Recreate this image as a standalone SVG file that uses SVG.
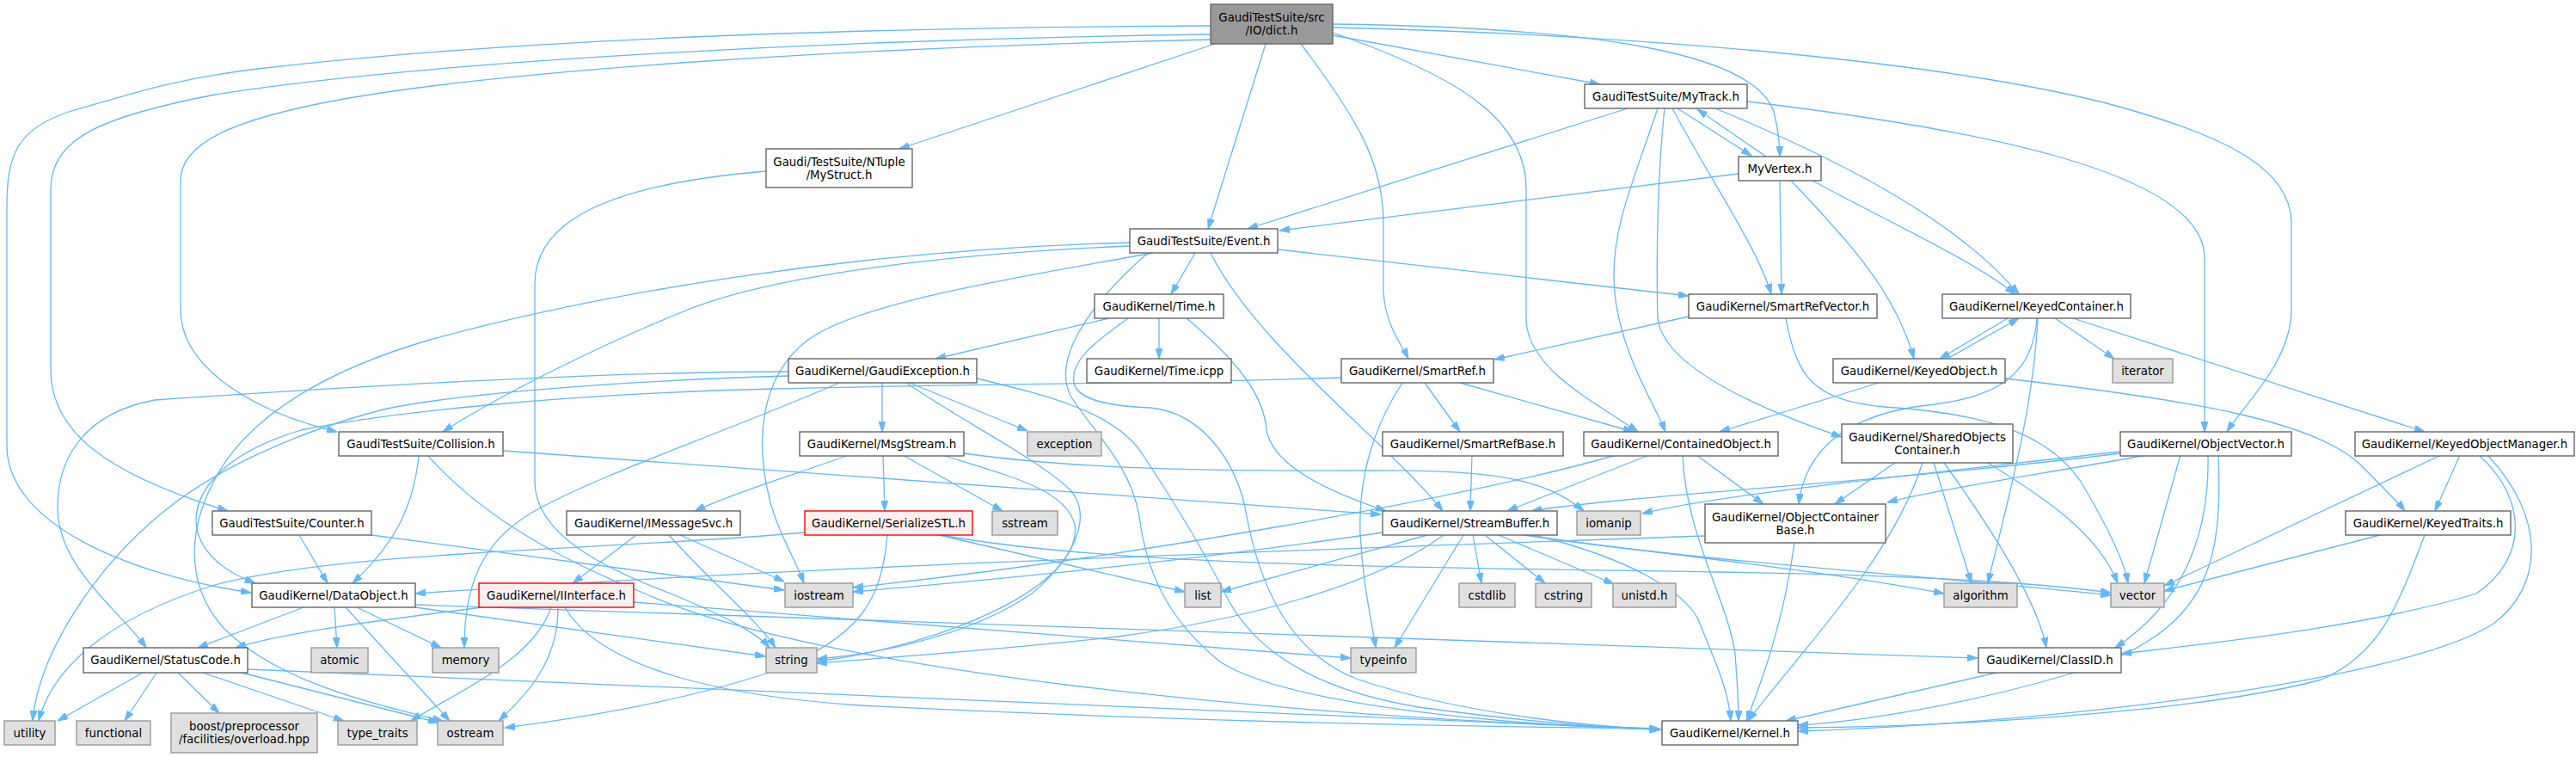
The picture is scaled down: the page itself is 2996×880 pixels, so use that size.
<svg xmlns="http://www.w3.org/2000/svg" width="2996" height="880" viewBox="0 0 2996 880">
<style>
text{font-family:"DejaVu Sans","Liberation Sans",sans-serif;font-size:13.33px;fill:#000;text-anchor:middle}
.n rect{fill:#fff;stroke:#666;stroke-width:1.4}
.g rect{fill:#e0e0e0;stroke:#999;stroke-width:1.4}
.r rect{fill:#fff0f0;stroke:#f00;stroke-width:1.4}
.root rect{fill:#999;stroke:#666;stroke-width:1.4}
#edges path{fill:none;stroke:#63b8ff;stroke-width:1.3;marker-end:url(#a)}
</style>
<defs>
<marker id="a" viewBox="0 0 12 8" refX="12" refY="4" markerWidth="12" markerHeight="8" orient="auto" markerUnits="userSpaceOnUse"><path d="M0,0 L12,4 L0,8 z" fill="#63b8ff" stroke="#63b8ff" stroke-width="1"/></marker>
</defs>
<rect width="2996" height="880" fill="#fff"/>
<g id="edges">
<path d="M1408,30 C1000,32 600,45 300,80 C200,92 150,110 80,130 C20,150 8,180 8,240 L8,520 C10,610 150,668 292,689"/>
<path d="M1408,40 C1000,45 500,70 250,110 C120,135 59,160 59,220 L59,430 C59,500 120,550 265,594"/>
<path d="M1408,46 C1000,55 600,80 400,115 C260,140 210,170 210,210 L210,360 C210,430 300,480 392,502"/>
<path d="M1413,51 L1046,173"/>
<path d="M1472,51 L1405,266"/>
<path d="M1513,51 C1580,140 1609,190 1609,260 L1609,340 C1612,380 1630,400 1638,417"/>
<path d="M1550,38 C1700,90 1775,140 1775,220 L1775,370 C1775,430 1860,470 1905,502"/>
<path d="M1550,41 L1861,98"/>
<path d="M1550,28 C1850,32 2040,60 2063,130 C2068,150 2070,165 2070,182"/>
<path d="M1550,32 C1900,40 2250,70 2450,120 C2600,160 2665,200 2665,260 L2665,360 C2665,420 2610,470 2590,502"/>
<path d="M1893,126 L1451,266"/>
<path d="M1928,126 C1900,210 1877,260 1877,320 C1877,400 1925,470 1937,502"/>
<path d="M1936,126 C1928,200 1926,300 1928,370 C1935,430 2060,480 2142,508"/>
<path d="M1945,126 C1990,210 2045,290 2060,342"/>
<path d="M1951,126 L2037,181"/>
<path d="M2054,182 L1974,127"/>
<path d="M1995,126 C2150,190 2280,260 2348,342"/>
<path d="M2032,118 C2300,150 2564,200 2564,300 L2564,502"/>
<path d="M2022,202 L1488,268"/>
<path d="M2070,210 L2072,342"/>
<path d="M2083,210 C2150,280 2205,340 2226,417"/>
<path d="M2108,210 C2200,260 2290,300 2344,342"/>
<path d="M1390,294 L1362,342"/>
<path d="M1486,290 L1964,344"/>
<path d="M1408,294 C1460,400 1620,520 1678,594"/>
<path d="M1341,294 C1200,320 1000,350 940,395 C880,440 880,520 895,580 C905,620 925,650 935,678"/>
<path d="M1314,286 C1100,295 900,320 800,360 C700,400 580,460 515,502"/>
<path d="M1314,282 C1000,290 700,340 500,395 C380,430 300,480 260,540 C215,610 215,680 260,730 C320,790 420,815 515,838"/>
<path d="M1335,294 C1260,360 1225,420 1245,460 C1270,500 1315,540 1325,600 C1335,680 1370,730 1420,770 C1500,820 1750,843 1932,848"/>
<path d="M1290,370 L1088,417"/>
<path d="M1348,370 L1348,417"/>
<path d="M1312,370 C1270,400 1245,420 1249,445 C1253,465 1290,472 1338,474 C1400,480 1440,540 1450,600 C1465,680 1500,760 1580,790 C1700,830 1850,845 1931,848"/>
<path d="M1380,370 C1440,420 1470,460 1473,500 C1480,540 1540,570 1612,594"/>
<path d="M1026,445 L1026,502"/>
<path d="M1058,445 L1195,501"/>
<path d="M917,432 C700,432 400,450 180,465 C100,480 67,530 67,590 C67,660 140,710 170,753"/>
<path d="M917,437 C750,442 550,455 450,475 C350,500 250,545 190,595 C110,660 45,760 38,838"/>
<path d="M976,445 C850,500 700,550 620,595 C560,630 540,680 540,753"/>
<path d="M1054,445 C1120,490 1200,530 1240,565 C1270,590 1260,640 1200,690 C1120,745 1000,762 950,766"/>
<path d="M1136,440 C1220,460 1300,480 1330,530 C1370,590 1400,640 1430,700 C1470,770 1550,805 1650,822 C1780,840 1870,846 1932,848"/>
<path d="M987,529 C930,550 860,570 808,594"/>
<path d="M1027,529 L1029,594"/>
<path d="M1050,529 L1166,594"/>
<path d="M1096,529 C1180,555 1240,570 1250,610 C1260,680 1100,750 950,769"/>
<path d="M1121,527 C1250,545 1400,548 1600,547 C1750,546 1800,560 1842,594"/>
<path d="M1032,622 C1025,700 1000,740 900,780 C780,820 650,838 587,846"/>
<path d="M1092,622 L1378,688"/>
<path d="M1095,622 C1300,660 1700,660 2000,665 C2200,668 2350,675 2455,689"/>
<path d="M937,619 C700,640 400,640 250,680 C120,720 60,780 45,838"/>
<path d="M1608,619 C1400,650 1200,670 992,688"/>
<path d="M1660,622 L1420,688"/>
<path d="M1679,622 C1600,680 1450,720 1300,740 C1150,757 1030,764 950,771"/>
<path d="M1702,622 L1622,753"/>
<path d="M1713,622 L1723,678"/>
<path d="M1727,622 L1797,678"/>
<path d="M1743,622 L1877,679"/>
<path d="M1772,622 C1900,640 2100,660 2261,690"/>
<path d="M1775,622 C1950,650 2250,670 2455,692"/>
<path d="M1784,622 C1900,650 1960,690 1975,720 C1995,770 2010,800 2013,838"/>
<path d="M1880,529 C1700,580 1300,650 992,683"/>
<path d="M1918,529 L1753,594"/>
<path d="M1957,529 C1960,620 2010,700 2018,760 C2021,800 2022,820 2022,838"/>
<path d="M1973,529 L2051,586"/>
<path d="M1712,529 L1710,594"/>
<path d="M1657,445 L1698,502"/>
<path d="M1698,445 L1900,502"/>
<path d="M1631,445 C1595,500 1580,560 1582,620 C1585,680 1595,720 1600,753"/>
<path d="M1560,439 C1400,445 1100,447 900,452 C650,458 450,480 350,500 C250,530 220,580 230,620 C240,650 270,668 297,678"/>
<path d="M1964,368 L1738,418"/>
<path d="M2077,370 C2090,440 2110,465 2191,473 C2300,480 2380,500 2420,560 C2450,610 2470,650 2475,678"/>
<path d="M2335,370 L2256,417"/>
<path d="M2265,417 L2348,370"/>
<path d="M2369,370 C2365,430 2330,460 2250,470 C2150,480 2100,520 2092,586"/>
<path d="M2370,370 C2365,480 2330,600 2312,678"/>
<path d="M2390,370 L2459,417"/>
<path d="M2411,370 L2820,502"/>
<path d="M2185,445 L2000,502"/>
<path d="M2332,440 C2550,465 2700,490 2750,545 C2775,570 2790,585 2797,594"/>
<path d="M2204,538 L2134,586"/>
<path d="M2236,538 C2200,650 2100,750 2033,838"/>
<path d="M2249,538 L2293,678"/>
<path d="M2261,538 C2320,620 2370,700 2380,753"/>
<path d="M2312,538 C2380,580 2440,620 2463,678"/>
<path d="M2466,527 C2200,560 1900,575 1781,594"/>
<path d="M2466,525 C2200,555 2000,575 1910,597"/>
<path d="M2497,529 C2350,555 2250,570 2195,584"/>
<path d="M2536,529 L2494,678"/>
<path d="M2568,529 C2570,620 2540,700 2460,753"/>
<path d="M2580,529 C2585,650 2570,720 2450,770 C2300,820 2150,840 2091,843"/>
<path d="M2839,529 L2517,681"/>
<path d="M2861,529 L2832,594"/>
<path d="M2883,529 C2940,580 2940,650 2880,690 C2750,730 2550,750 2467,760"/>
<path d="M2893,529 C2960,600 2960,680 2900,725 C2800,790 2400,840 2091,850"/>
<path d="M2768,622 L2517,687"/>
<path d="M2820,622 C2790,700 2770,760 2700,790 C2550,830 2250,845 2091,846"/>
<path d="M2087,631 C2075,720 2050,790 2031,838"/>
<path d="M1983,623 C1500,640 900,660 483,690"/>
<path d="M2322,782 L2077,838"/>
<path d="M740,622 L666,678"/>
<path d="M778,622 C830,680 880,720 902,753"/>
<path d="M791,622 L912,676"/>
<path d="M561,706 C450,720 330,735 274,753"/>
<path d="M641,706 C620,770 520,810 478,838"/>
<path d="M649,706 C650,770 610,810 580,838"/>
<path d="M657,706 C700,780 850,810 1000,820 C1400,840 1700,845 1930,847"/>
<path d="M737,700 L1571,765"/>
<path d="M166,782 L67,838"/>
<path d="M182,782 L145,838"/>
<path d="M207,782 L255,829"/>
<path d="M236,782 L400,838"/>
<path d="M281,782 L510,840"/>
<path d="M288,778 L1930,848"/>
<path d="M353,706 L230,753"/>
<path d="M389,706 L392,753"/>
<path d="M415,706 L513,753"/>
<path d="M402,706 L523,838"/>
<path d="M483,706 L890,763"/>
<path d="M483,703 L2300,765"/>
<path d="M348,622 L381,678"/>
<path d="M432,622 L912,686"/>
<path d="M487,530 C480,600 450,640 410,678"/>
<path d="M585,524 L1606,598"/>
<path d="M498,530 C560,600 650,650 750,690 C950,780 1500,835 1930,847"/>
<path d="M891,199 C700,215 622,260 622,330 L622,560 C622,620 700,660 780,690 C840,715 880,735 895,753"/>
</g>
<g id="dict" class="root"><rect x="1408" y="5" width="142" height="46"/><text x="1479" y="24.5">GaudiTestSuite/src</text><text x="1479" y="40">/IO/dict.h</text></g>
<g id="mystruct" class="n"><rect x="891" y="173" width="170" height="45"/><text x="976" y="192.5">Gaudi/TestSuite/NTuple</text><text x="976" y="208">/MyStruct.h</text></g>
<g id="event" class="n"><rect x="1314" y="266" width="172" height="28"/><text x="1400" y="284.7">GaudiTestSuite/Event.h</text></g>
<g id="mytrack" class="n"><rect x="1843" y="98" width="189" height="28"/><text x="1937.5" y="116.7">GaudiTestSuite/MyTrack.h</text></g>
<g id="myvertex" class="n"><rect x="2022" y="182" width="96" height="28"/><text x="2070" y="200.7">MyVertex.h</text></g>
<g id="time" class="n"><rect x="1273" y="342" width="150" height="28"/><text x="1348" y="360.7">GaudiKernel/Time.h</text></g>
<g id="smartrefvector" class="n"><rect x="1964" y="342" width="219" height="28"/><text x="2073.5" y="360.7">GaudiKernel/SmartRefVector.h</text></g>
<g id="keyedcontainer" class="n"><rect x="2259" y="342" width="219" height="28"/><text x="2368.5" y="360.7">GaudiKernel/KeyedContainer.h</text></g>
<g id="gaudiexception" class="n"><rect x="917" y="417" width="219" height="28"/><text x="1026.5" y="435.7">GaudiKernel/GaudiException.h</text></g>
<g id="timeicpp" class="n"><rect x="1264" y="417" width="168" height="28"/><text x="1348" y="435.7">GaudiKernel/Time.icpp</text></g>
<g id="smartref" class="n"><rect x="1560" y="417" width="177" height="28"/><text x="1648.5" y="435.7">GaudiKernel/SmartRef.h</text></g>
<g id="keyedobject" class="n"><rect x="2132" y="417" width="200" height="28"/><text x="2232" y="435.7">GaudiKernel/KeyedObject.h</text></g>
<g id="iterator" class="g"><rect x="2457" y="417" width="70" height="28"/><text x="2492" y="435.7">iterator</text></g>
<g id="collision" class="n"><rect x="394" y="502" width="191" height="28"/><text x="489.5" y="520.7">GaudiTestSuite/Collision.h</text></g>
<g id="msgstream" class="n"><rect x="930" y="502" width="191" height="28"/><text x="1025.5" y="520.7">GaudiKernel/MsgStream.h</text></g>
<g id="exception" class="g"><rect x="1195" y="502" width="86" height="28"/><text x="1238" y="520.7">exception</text></g>
<g id="smartrefbase" class="n"><rect x="1608" y="502" width="210" height="28"/><text x="1713" y="520.7">GaudiKernel/SmartRefBase.h</text></g>
<g id="containedobject" class="n"><rect x="1842" y="502" width="226" height="28"/><text x="1955" y="520.7">GaudiKernel/ContainedObject.h</text></g>
<g id="sharedobjects" class="n"><rect x="2142" y="493" width="199" height="45"/><text x="2241.5" y="512.5">GaudiKernel/SharedObjects</text><text x="2241.5" y="528">Container.h</text></g>
<g id="objectvector" class="n"><rect x="2466" y="502" width="199" height="28"/><text x="2565.5" y="520.7">GaudiKernel/ObjectVector.h</text></g>
<g id="keyedobjectmanager" class="n"><rect x="2739" y="502" width="255" height="28"/><text x="2866.5" y="520.7">GaudiKernel/KeyedObjectManager.h</text></g>
<g id="counter" class="n"><rect x="247" y="594" width="185" height="28"/><text x="339.5" y="612.7">GaudiTestSuite/Counter.h</text></g>
<g id="imessagesvc" class="n"><rect x="659" y="594" width="202" height="28"/><text x="760" y="612.7">GaudiKernel/IMessageSvc.h</text></g>
<g id="serializestl" class="r"><rect x="936" y="594" width="195" height="28"/><text x="1033.5" y="612.7">GaudiKernel/SerializeSTL.h</text></g>
<g id="sstream" class="g"><rect x="1154" y="594" width="76" height="28"/><text x="1192" y="612.7">sstream</text></g>
<g id="streambuffer" class="n"><rect x="1608" y="594" width="203" height="28"/><text x="1709.5" y="612.7">GaudiKernel/StreamBuffer.h</text></g>
<g id="iomanip" class="g"><rect x="1834" y="594" width="74" height="28"/><text x="1871" y="612.7">iomanip</text></g>
<g id="objectcontainerbase" class="n"><rect x="1983" y="586" width="210" height="45"/><text x="2088" y="605.5">GaudiKernel/ObjectContainer</text><text x="2088" y="621">Base.h</text></g>
<g id="keyedtraits" class="n"><rect x="2728" y="594" width="192" height="28"/><text x="2824" y="612.7">GaudiKernel/KeyedTraits.h</text></g>
<g id="dataobject" class="n"><rect x="293" y="678" width="190" height="28"/><text x="388" y="696.7">GaudiKernel/DataObject.h</text></g>
<g id="iinterface" class="r"><rect x="557" y="678" width="180" height="28"/><text x="647" y="696.7">GaudiKernel/IInterface.h</text></g>
<g id="iostream" class="g"><rect x="913" y="678" width="79" height="28"/><text x="952.5" y="696.7">iostream</text></g>
<g id="list" class="g"><rect x="1378" y="678" width="42" height="28"/><text x="1399" y="696.7">list</text></g>
<g id="cstdlib" class="g"><rect x="1697" y="678" width="65" height="28"/><text x="1729.5" y="696.7">cstdlib</text></g>
<g id="cstring" class="g"><rect x="1786" y="678" width="65" height="28"/><text x="1818.5" y="696.7">cstring</text></g>
<g id="unistd" class="g"><rect x="1876" y="678" width="73" height="28"/><text x="1912.5" y="696.7">unistd.h</text></g>
<g id="algorithm" class="g"><rect x="2261" y="678" width="85" height="28"/><text x="2303.5" y="696.7">algorithm</text></g>
<g id="vector" class="g"><rect x="2455" y="678" width="62" height="28"/><text x="2486" y="696.7">vector</text></g>
<g id="statuscode" class="n"><rect x="97" y="753" width="191" height="29"/><text x="192.5" y="772">GaudiKernel/StatusCode.h</text></g>
<g id="atomic" class="g"><rect x="362" y="753" width="66" height="29"/><text x="395" y="772">atomic</text></g>
<g id="memory" class="g"><rect x="503" y="753" width="77" height="29"/><text x="541.5" y="772">memory</text></g>
<g id="string" class="g"><rect x="891" y="753" width="59" height="29"/><text x="920.5" y="772">string</text></g>
<g id="typeinfo" class="g"><rect x="1571" y="753" width="76" height="29"/><text x="1609" y="772">typeinfo</text></g>
<g id="classid" class="n"><rect x="2301" y="753" width="166" height="29"/><text x="2384" y="772">GaudiKernel/ClassID.h</text></g>
<g id="utility" class="g"><rect x="5" y="838" width="59" height="28"/><text x="34.5" y="856.7">utility</text></g>
<g id="functional" class="g"><rect x="89" y="838" width="86" height="28"/><text x="132" y="856.7">functional</text></g>
<g id="boost" class="g"><rect x="199" y="829" width="170" height="46"/><text x="284" y="848.5">boost/preprocessor</text><text x="284" y="864">/facilities/overload.hpp</text></g>
<g id="typetraits" class="g"><rect x="393" y="838" width="92" height="28"/><text x="439" y="856.7">type_traits</text></g>
<g id="ostream" class="g"><rect x="509" y="838" width="76" height="28"/><text x="547" y="856.7">ostream</text></g>
<g id="kernel" class="n"><rect x="1933" y="838" width="158" height="28"/><text x="2012" y="856.7">GaudiKernel/Kernel.h</text></g>
</svg>
